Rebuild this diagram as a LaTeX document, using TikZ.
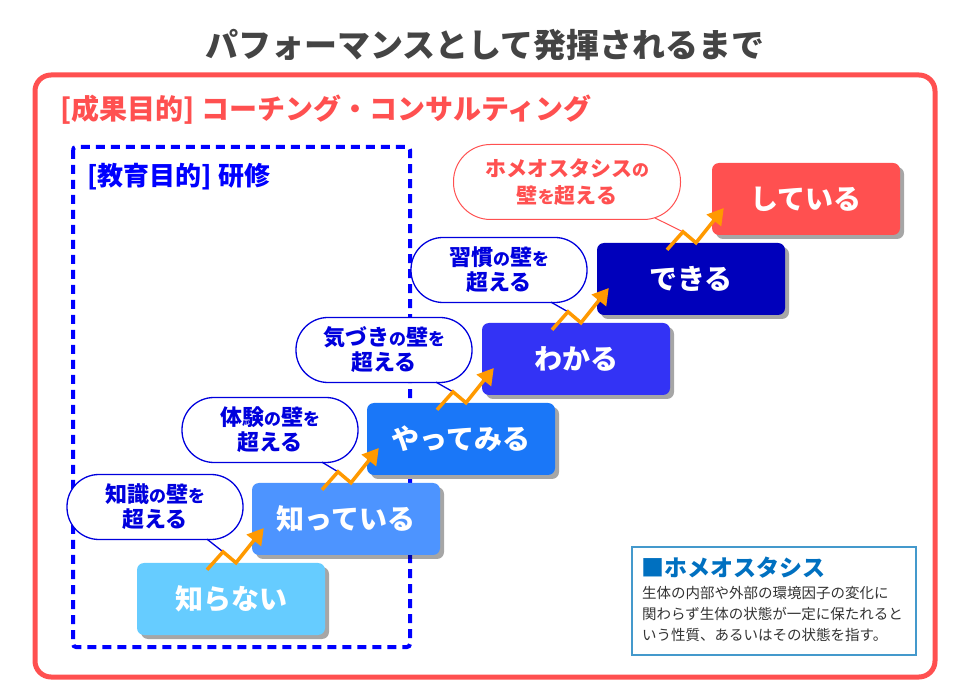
\documentclass[tikz,border=0pt]{standalone}
\usepackage{fontspec}
\setmainfont{Noto Sans CJK JP}
\usetikzlibrary{calc,arrows.meta,shadows}

\definecolor{titlegray}{HTML}{444444}
\definecolor{coachred}{HTML}{FF5050}
\definecolor{edublue}{HTML}{0000FF}
\definecolor{bubblue}{HTML}{0000DD}
\definecolor{st0}{HTML}{66CCFF}
\definecolor{st1}{HTML}{4D94FF}
\definecolor{st2}{HTML}{1A77F8}
\definecolor{st3}{HTML}{3333F5}
\definecolor{st4}{HTML}{0000BB}
\definecolor{st5}{HTML}{FF5050}
\definecolor{arrowor}{HTML}{FF9900}
\definecolor{infoblue}{HTML}{4499CC}
\definecolor{infohead}{HTML}{0070C0}
\definecolor{infotext}{HTML}{333333}

\newcommand\kn[1]{{\fontsize{17pt}{17pt}\selectfont #1}} % small kana

\tikzset{
  stepbox/.style={rounded corners=7pt, minimum width=188pt, minimum height=72pt,
    text=white, font=\fontsize{28pt}{30pt}\selectfont\bfseries,
    drop shadow={shadow xshift=4pt, shadow yshift=-4pt, fill=black, opacity=.35}},
  bubble/.style={draw=bubblue, line width=1.3pt, fill=white, rounded corners=32pt,
    minimum width=176pt, minimum height=65pt, text=bubblue, align=center,
    inner sep=0pt, font=\fontsize{22pt}{25pt}\selectfont\bfseries},
  zig/.style={draw=arrowor, line width=3.5pt, line join=miter,
    -{Triangle[length=16pt,width=18pt]}},
}

\begin{document}
\begin{tikzpicture}[x=1pt,y=-1pt]
\useasboundingbox (0,0) rectangle (970,700);

\node[text=titlegray, font=\fontsize{33pt}{33pt}\selectfont\bfseries] (title) at (485,45) {パフォーマンスとして発揮されるまで};

% outer frame
\draw[coachred, line width=5pt, rounded corners=16pt] (35,75) rectangle (935,677);
\node[anchor=west, text=coachred, font=\fontsize{28pt}{28pt}\selectfont\bfseries] (coachlbl) at (57,110) {[成果目的] コーチング・コンサルティング};

% inner dashed frame
\draw[edublue, line width=4pt, dash pattern=on 9pt off 6pt, rounded corners=3pt] (73,147) rectangle (410,647);
\node[anchor=west, text=edublue, font=\fontsize{26pt}{26pt}\selectfont\bfseries] (edulbl) at (84,177) {[教育目的] 研修};

% steps
\foreach \i/\c/\t in {0/st0/知らない,1/st1/知っている,2/st2/やってみる,3/st3/わかる,4/st4/できる,5/st5/している}
  \node[stepbox, fill=\c] (s\i) at (231+115*\i,599-80*\i) {\t};

% zigzag points
\foreach \i in {0,...,4}
  \path ($(s\i.north)+(-24,7)$) coordinate (za\i) ++(16,-18) coordinate (zb\i) ++(13,11) coordinate (zc\i);

% bubbles
\node[bubble] (w0) at (155,507) {知識\kn{の}壁\kn{を}\\超える};
\node[bubble] (w1) at (270,430) {体験\kn{の}壁\kn{を}\\超える};
\node[bubble] (w2) at (384,350) {気づき\kn{の}壁\kn{を}\\超える};
\node[bubble] (w3) at (499,270) {習慣\kn{の}壁\kn{を}\\超える};
\node[bubble, draw=coachred, text=coachred, line width=1pt, minimum width=227pt, minimum height=75pt,
  rounded corners=37pt, font=\fontsize{21pt}{27pt}\selectfont\bfseries] (w4) at (567,182) {ホメオスタシス\kn{の}\\壁\kn{を}超える};

\foreach \i in {0,...,3}
  \draw[bubblue, line width=1.3pt] ($(w\i.south)+(52,-1)$) -- (zb\i);
\draw[coachred, line width=1pt] ($(w4.south)+(88,-2)$) -- (zb4);

% arrows
\foreach \i in {0,...,4}{
  \pgfmathtruncatemacro\j{\i+1}
  \draw[zig] (za\i) -- (zb\i) -- (zc\i) -- ($(s\j.west)+(12,9)$);
}

% info box
\node[draw=infoblue, line width=1.5pt, minimum width=284pt, minimum height=108pt] (info) at (774,601) {};
\node[anchor=west, inner sep=0pt, text=infohead, font=\fontsize{23pt}{23pt}\selectfont\bfseries] (infohd) at (641,568) {■ホメオスタシス};
\node[anchor=north west, inner sep=0pt, align=left, text=infotext, font=\fontsize{14.5pt}{21pt}\selectfont] (infobody) at (642,586)
  {生体の内部や外部の環境因子の変化に\\関わらず生体の状態が一定に保たれると\\いう性質、あるいはその状態を指す。};
\end{tikzpicture}
\end{document}
